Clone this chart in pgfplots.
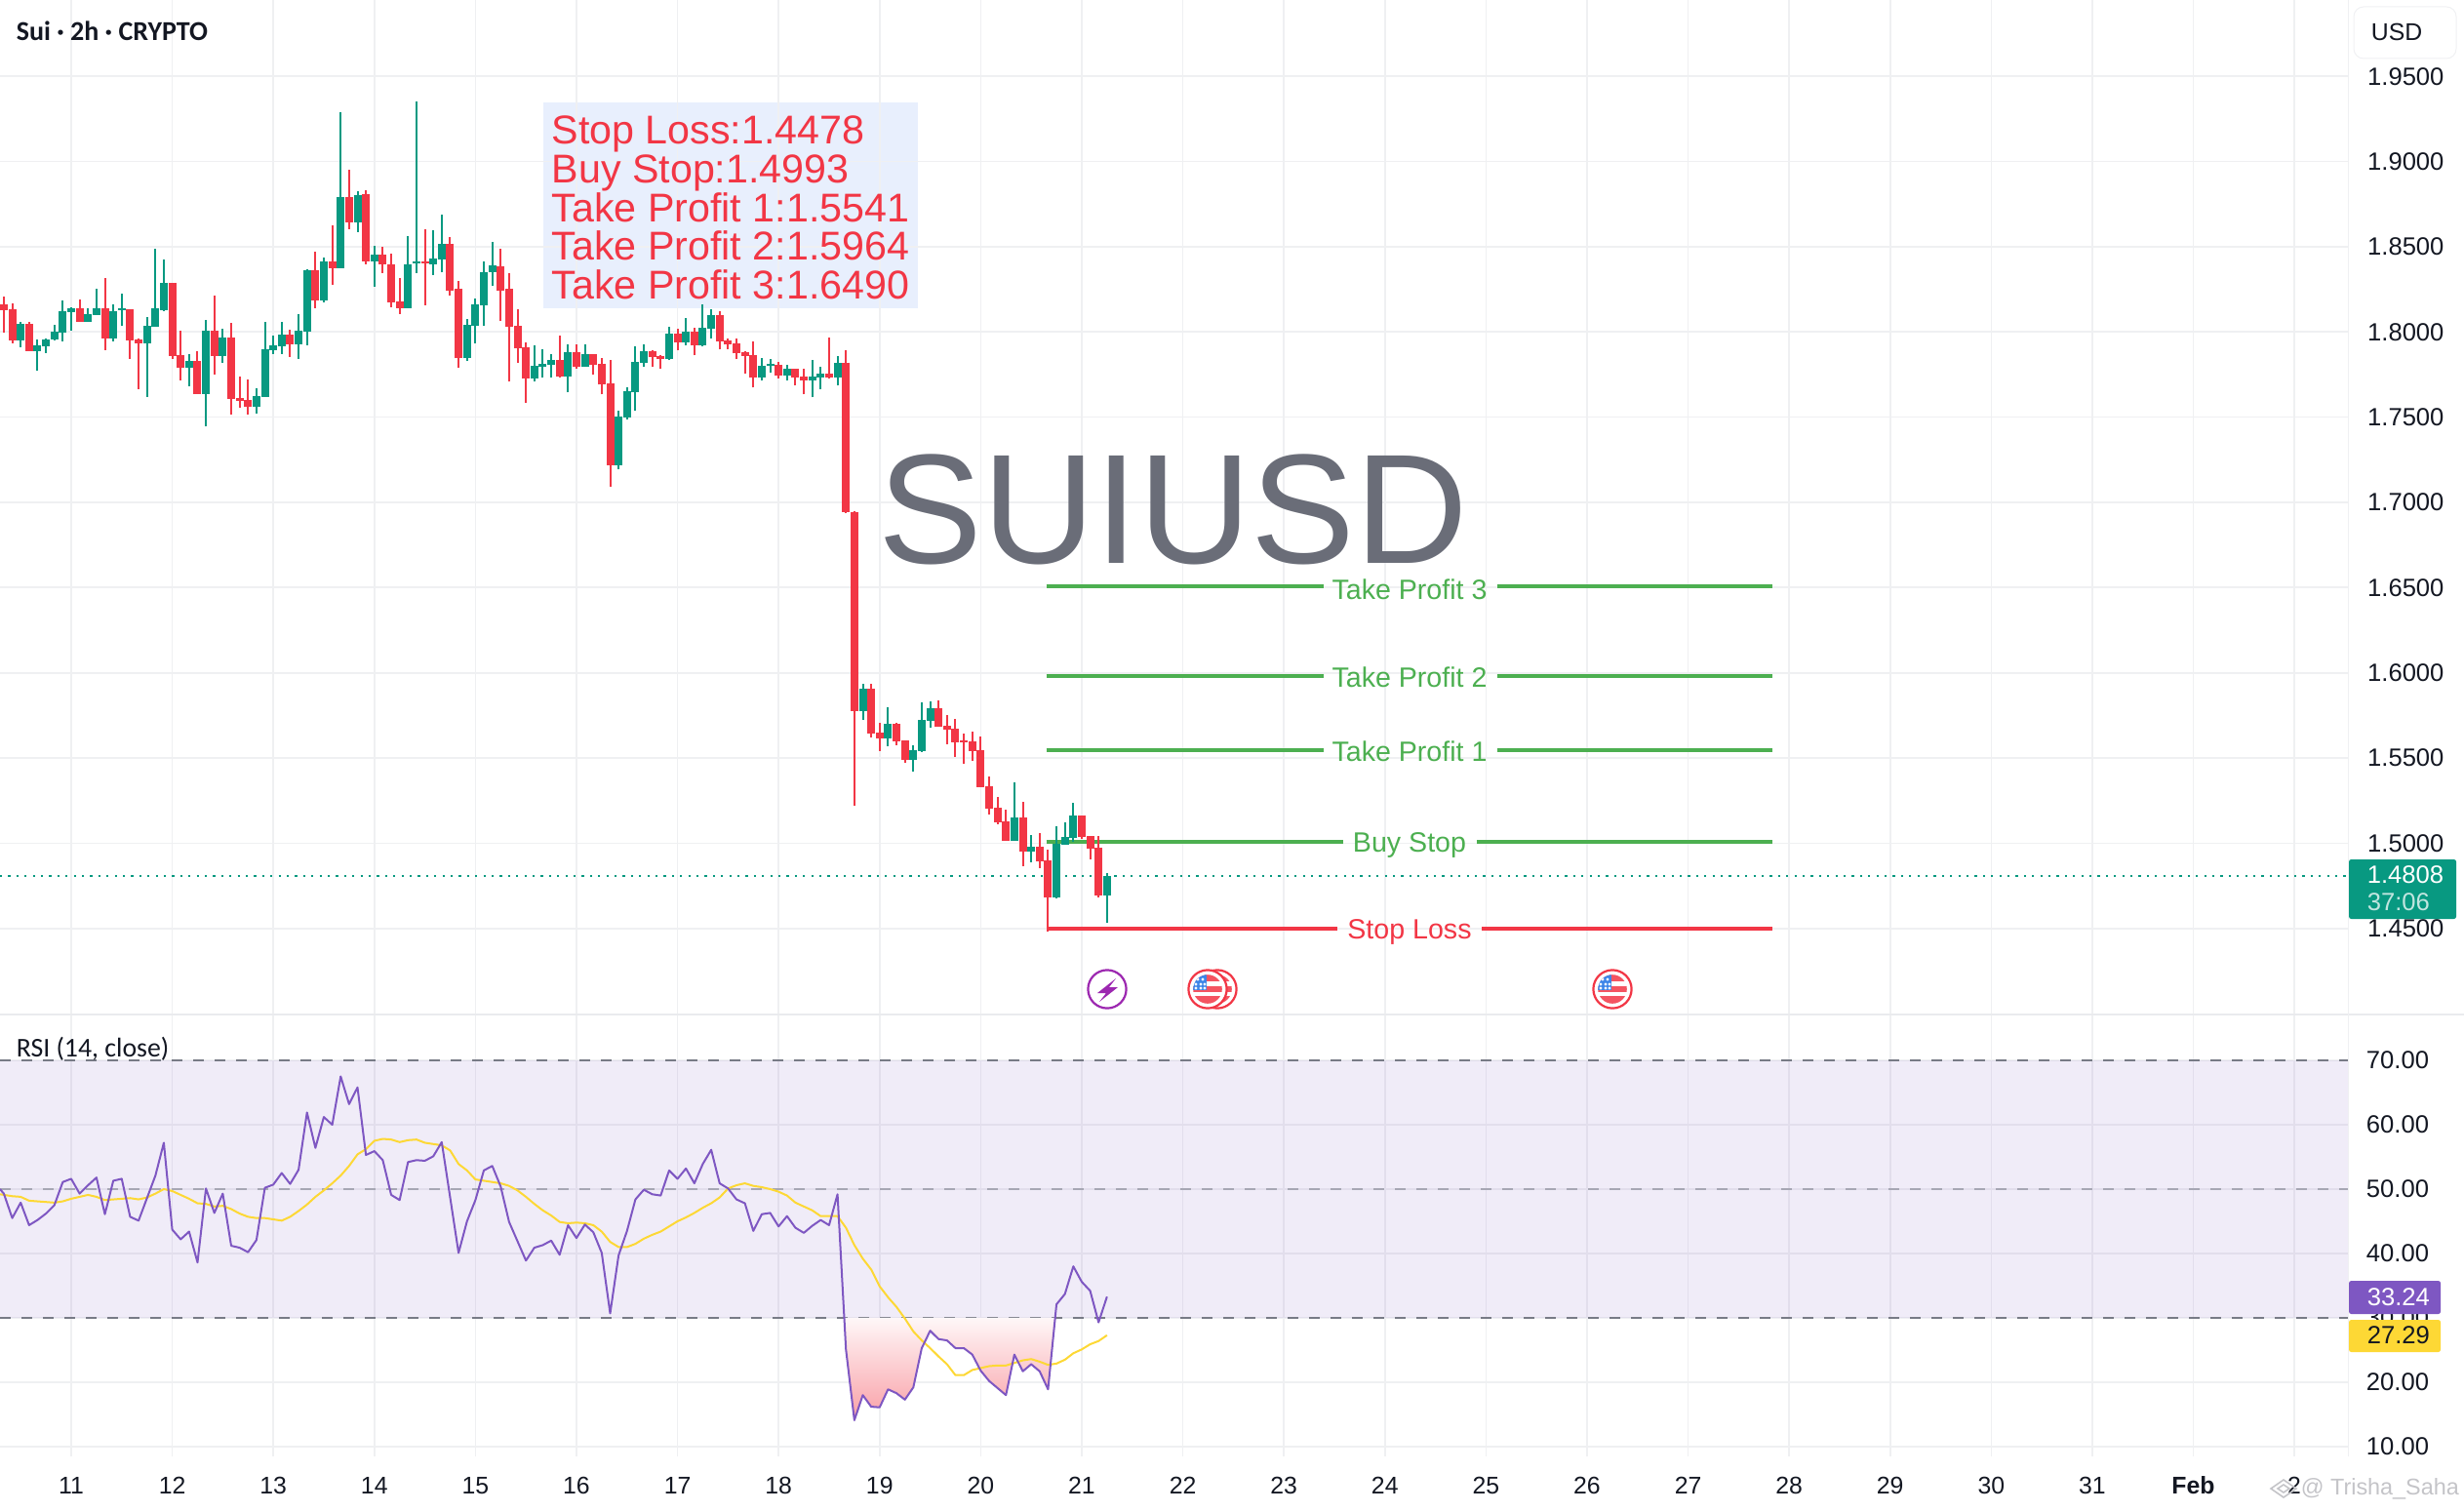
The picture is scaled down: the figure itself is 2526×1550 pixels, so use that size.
\documentclass[border=0pt]{standalone}
\usepackage{fontspec}
\usepackage{pgfplots}
\usepackage{pgfplotstable}
\pgfplotsset{compat=1.18}
\setmainfont{Liberation Sans}
\newfontfamily\carlito{Carlito}
\definecolor{tvred}{HTML}{F23645}
\definecolor{tvgreen}{HTML}{089981}
\definecolor{lvgreen}{HTML}{4CAF50}
\definecolor{gridc}{HTML}{EFF0F2}
\definecolor{rsip}{HTML}{7E57C2}
\definecolor{rsiy}{HTML}{FDD835}
\definecolor{dashc}{HTML}{787B86}
\definecolor{boxc}{HTML}{E8EFFD}
\definecolor{txt}{HTML}{131722}
\definecolor{wm}{HTML}{C4C4C8}
\definecolor{divc}{HTML}{EAEBEE}
\definecolor{usdc}{HTML}{F0F1F3}
\definecolor{bigc}{HTML}{6A6D78}
\definecolor{bolt}{HTML}{9C27B0}
\definecolor{flagb}{HTML}{3D85E8}
\pgfplotstableread{
i wl lo hi wh
0 1.7997 1.8129 1.8163 1.8209
1 1.7934 1.7951 1.8134 1.8169
3 1.7888 1.7888 1.8048 1.8060
9 1.8060 1.8060 1.8140 1.8192
12 1.7894 1.7962 1.8140 1.8318
15 1.7842 1.7951 1.8134 1.8134
16 1.7664 1.7934 1.7957 1.7962
20 1.7842 1.7859 1.8289 1.8289
21 1.7716 1.7790 1.7865 1.8008
23 1.7636 1.7636 1.7831 1.7888
25 1.7750 1.7859 1.8008 1.8215
27 1.7515 1.7607 1.7968 1.8054
28 1.7555 1.7595 1.7613 1.7739
29 1.7515 1.7561 1.7601 1.7722
34 1.7853 1.7928 1.7985 1.8014
37 1.8140 1.8186 1.8364 1.8473
39 1.8278 1.8375 1.8415 1.8627
41 1.8604 1.8645 1.8794 1.8954
43 1.8398 1.8415 1.8811 1.8834
45 1.8347 1.8398 1.8455 1.8501
46 1.8146 1.8175 1.8398 1.8461
47 1.8106 1.8140 1.8180 1.8318
50 1.8157 1.8404 1.8415 1.8604
53 1.8211 1.8240 1.8515 1.8555
54 1.7788 1.7845 1.8252 1.8298
59 1.8063 1.8240 1.8385 1.8486
60 1.7708 1.8029 1.8252 1.8344
61 1.7817 1.7903 1.8034 1.8132
62 1.7582 1.7725 1.7908 1.7937
66 1.7731 1.7736 1.7834 1.7977
68 1.7782 1.7794 1.7880 1.7925
70 1.7748 1.7805 1.7868 1.7868
71 1.7633 1.7690 1.7811 1.7845
72 1.7094 1.7220 1.7696 1.7834
77 1.7794 1.7851 1.7885 1.7891
78 1.7782 1.7839 1.7857 1.7862
80 1.7891 1.7937 1.7988 1.8017
82 1.7862 1.7920 1.8000 1.8023
85 1.7897 1.7943 1.8097 1.8120
86 1.7897 1.7925 1.7948 1.7960
87 1.7839 1.7874 1.7931 1.7960
88 1.7753 1.7857 1.7880 1.7885
89 1.7673 1.7731 1.7862 1.7943
92 1.7725 1.7742 1.7805 1.7822
94 1.7685 1.7731 1.7782 1.7782
95 1.7633 1.7713 1.7736 1.7782
98 1.7725 1.7731 1.7753 1.7966
100 1.6934 1.6945 1.7817 1.7891
101 1.5222 1.5776 1.6945 1.6950
103 1.5622 1.5645 1.5908 1.5937
104 1.5541 1.5616 1.5650 1.5708
106 1.5576 1.5599 1.5702 1.5708
107 1.5473 1.5490 1.5604 1.5604
111 1.5685 1.5685 1.5794 1.5839
112 1.5582 1.5667 1.5690 1.5753
113 1.5507 1.5593 1.5673 1.5731
114 1.5467 1.5593 1.5604 1.5645
115 1.5484 1.5541 1.5599 1.5656
116 1.5329 1.5329 1.5547 1.5627
117 1.5169 1.5203 1.5335 1.5392
118 1.5111 1.5123 1.5209 1.5272
119 1.5014 1.5014 1.5129 1.5197
121 1.4865 1.4951 1.5152 1.5243
123 1.4853 1.4893 1.4980 1.5060
124 1.4481 1.4681 1.4899 1.4962
128 1.5025 1.5037 1.5163 1.5163
129 1.4905 1.4968 1.5043 1.5043
130 1.4681 1.4693 1.4974 1.5043
}\redbars
\pgfplotstableread{
i wl lo hi wh
2 1.7911 1.7951 1.8048 1.8060
4 1.7773 1.7888 1.7922 1.7957
5 1.7876 1.7917 1.7957 1.7962
6 1.7951 1.7957 1.8003 1.8043
7 1.7945 1.7997 1.8123 1.8186
8 1.8008 1.8117 1.8140 1.8146
10 1.8060 1.8060 1.8106 1.8140
11 1.8100 1.8100 1.8140 1.8255
13 1.7945 1.7962 1.8123 1.8163
14 1.8037 1.8129 1.8140 1.8226
17 1.7618 1.7934 1.8037 1.8089
18 1.8031 1.8031 1.8140 1.8490
19 1.8123 1.8129 1.8289 1.8427
22 1.7681 1.7790 1.7831 1.7871
24 1.7446 1.7636 1.8008 1.8071
26 1.7819 1.7859 1.7968 1.8020
30 1.7521 1.7561 1.7624 1.7670
31 1.7618 1.7618 1.7899 1.8060
32 1.7871 1.7894 1.7922 1.7980
33 1.7871 1.7917 1.7985 1.8060
35 1.7842 1.7928 1.8008 1.8106
36 1.7922 1.8003 1.8364 1.8369
38 1.8175 1.8186 1.8415 1.8438
40 1.8375 1.8375 1.8794 1.9287
42 1.8587 1.8645 1.8805 1.8828
44 1.8266 1.8415 1.8455 1.8507
48 1.8140 1.8140 1.8398 1.8564
49 1.8347 1.8404 1.8415 1.9350
51 1.8335 1.8398 1.8432 1.8599
52 1.8349 1.8423 1.8515 1.8687
55 1.7828 1.7845 1.8040 1.8075
56 1.7931 1.8034 1.8161 1.8195
57 1.8034 1.8155 1.8352 1.8415
58 1.8269 1.8350 1.8390 1.8527
63 1.7708 1.7725 1.7799 1.7920
64 1.7731 1.7794 1.7811 1.7897
65 1.7731 1.7805 1.7834 1.7868
67 1.7645 1.7736 1.7880 1.7925
69 1.7794 1.7794 1.7868 1.7925
73 1.7192 1.7220 1.7501 1.7536
74 1.7484 1.7495 1.7650 1.7673
75 1.7536 1.7645 1.7822 1.7914
76 1.7794 1.7817 1.7885 1.7925
79 1.7834 1.7839 1.7988 1.8029
81 1.7920 1.7937 1.8000 1.8080
83 1.7914 1.7920 1.8023 1.8161
84 1.7960 1.8017 1.8097 1.8132
90 1.7713 1.7731 1.7799 1.7845
91 1.7759 1.7799 1.7811 1.7839
93 1.7713 1.7742 1.7782 1.7805
96 1.7616 1.7713 1.7736 1.7834
97 1.7662 1.7731 1.7753 1.7794
99 1.7685 1.7731 1.7817 1.7857
102 1.5725 1.5776 1.5908 1.5937
105 1.5570 1.5616 1.5702 1.5799
108 1.5421 1.5490 1.5547 1.5576
109 1.5536 1.5541 1.5725 1.5828
110 1.5679 1.5719 1.5794 1.5834
120 1.5014 1.5014 1.5152 1.5358
122 1.4888 1.4951 1.4980 1.5048
125 1.4676 1.4681 1.4997 1.5100
126 1.4991 1.4991 1.5037 1.5123
127 1.5008 1.5031 1.5163 1.5237
131 1.4532 1.4693 1.4808 1.4825
}\greenbars
\newcommand{\usflag}[2]{%
 \begin{scope}[shift={(#1,#2)}]
  \filldraw[draw=tvred,fill=white,line width=.55pt] (0,0) circle (4.9pt);
  \begin{scope}
   \clip (0,0) circle (3.7pt);
   \fill[tvred!85] (-16,-16) rectangle (16,-8);
   \fill[tvred!85] (-16,-3) rectangle (16,3);
   \fill[tvred!85] (-16,7) rectangle (16,16);
   \fill[flagb] (-16,-16) rectangle (-1,1);
   \foreach \a/\b in {-10/-10,-5/-10,-12/-5,-7/-5,-3/-5,-12/-1,-7/-1,-3/-1}{\fill[white] (\a,\b) circle (.4pt);}
  \end{scope}
 \end{scope}}
\begin{document}
\begin{tikzpicture}[x=0.25pt,y=-0.25pt]
\path[use as bounding box] (0,0) rectangle (2526,1550);
\coordinate (mainorigin) at (0,0);
\coordinate (rsiorigin) at (0,1040);
\fill[boxc] (557,105) rectangle (941,316);
\begin{axis}[
  at={(mainorigin)},anchor=north west,scale only axis,width=601.75pt,height=260pt,
  xmin=-0.455,xmax=278.36,ymin=1.39946,ymax=1.99477,
  axis line style={draw=none},tick style={draw=none},
  xtick={8,20,32,44,56,68,80,92,104,116,128,140,152,164,176,188,200,212,224,236,248,260,272},
  xticklabels={},
  ytick={1.45,1.5,1.55,1.6,1.65,1.7,1.75,1.8,1.85,1.9,1.95},
  yticklabel pos=right,
  scaled y ticks=false,
  /pgf/number format/assume math mode=true,
  yticklabel style={/pgf/number format/fixed,/pgf/number format/fixed zerofill,/pgf/number format/precision=4,
    font=\fontsize{6.4}{7.5}\selectfont,text=txt,anchor=west,xshift=1.5pt},
  grid=major,major grid style={gridc,line width=.42pt},
  clip=true,
]
\addplot[lvgreen,line width=1pt] coordinates {(123.8,1.6505)(156.7,1.6505)};
\addplot[lvgreen,line width=1pt] coordinates {(177.4,1.6505)(210,1.6505)};
\addplot[lvgreen,line width=1pt] coordinates {(123.8,1.598)(156.7,1.598)};
\addplot[lvgreen,line width=1pt] coordinates {(177.4,1.598)(210,1.598)};
\addplot[lvgreen,line width=1pt] coordinates {(123.8,1.5546)(156.7,1.5546)};
\addplot[lvgreen,line width=1pt] coordinates {(177.4,1.5546)(210,1.5546)};
\addplot[lvgreen,line width=1pt] coordinates {(123.8,1.5008)(159.1,1.5008)};
\addplot[lvgreen,line width=1pt] coordinates {(174.9,1.5008)(210,1.5008)};
\addplot[tvred,line width=1pt] coordinates {(123.8,1.4498)(158.4,1.4498)};
\addplot[tvred,line width=1pt] coordinates {(175.5,1.4498)(210,1.4498)};
\addplot[tvgreen,line width=.5pt,dash pattern=on .55pt off 1.55pt] coordinates {(-0.455,1.4808)(278.36,1.4808)};
% wicks and bodies
\addplot[draw=none,no markers,error bars/.cd,y dir=plus,y explicit,error mark=none,error bar style={tvgreen,line width=.5pt}]
  table[x=i,y=wl,y error plus expr=\thisrow{wh}-\thisrow{wl}] {\greenbars};
\addplot[draw=none,no markers,error bars/.cd,y dir=plus,y explicit,error mark=none,error bar style={tvgreen,line width=2pt}]
  table[x=i,y=lo,y error plus expr=\thisrow{hi}-\thisrow{lo}] {\greenbars};
\addplot[draw=none,no markers,error bars/.cd,y dir=plus,y explicit,error mark=none,error bar style={tvred,line width=.5pt}]
  table[x=i,y=wl,y error plus expr=\thisrow{wh}-\thisrow{wl}] {\redbars};
\addplot[draw=none,no markers,error bars/.cd,y dir=plus,y explicit,error mark=none,error bar style={tvred,line width=2pt}]
  table[x=i,y=lo,y error plus expr=\thisrow{hi}-\thisrow{lo}] {\redbars};
\end{axis}
\begin{axis}[
  at={(rsiorigin)},anchor=north west,scale only axis,width=601.75pt,height=113.25pt,
  xmin=-0.455,xmax=278.36,ymin=8.48,ymax=77.12,
  axis line style={draw=none},tick style={draw=none},
  xtick={8,20,32,44,56,68,80,92,104,116,128,140,152,164,176,188,200,212,224,236,248,260,272},
  xticklabels={11,12,13,14,15,16,17,18,19,20,21,22,23,24,25,26,27,28,29,30,31,\textbf{Feb},2},
  xticklabel style={font=\fontsize{6.2}{7.5}\selectfont,text=txt,anchor=center,yshift=-7.4pt},
  ytick={10,20,30,40,50,60,70},
  yticklabel pos=right,
  /pgf/number format/assume math mode=true,
  yticklabel style={/pgf/number format/fixed,/pgf/number format/fixed zerofill,/pgf/number format/precision=2,
    font=\fontsize{6.4}{7.5}\selectfont,text=txt,anchor=west,xshift=1.2pt},
  grid=major,major grid style={gridc,line width=.42pt},
  clip=true,
]
\fill[rsip,fill opacity=.115] (axis cs:-0.455,30) rectangle (axis cs:278.36,70);
\addplot[dashc,line width=.4pt,dash pattern=on 2.75pt off 2.75pt] coordinates {(-0.455,70)(278.36,70)};
\addplot[dashc,draw opacity=.55,line width=.4pt,dash pattern=on 2.75pt off 2.75pt] coordinates {(-0.455,50)(278.36,50)};
\addplot[dashc,line width=.4pt,dash pattern=on 2.75pt off 2.75pt] coordinates {(-0.455,30)(278.36,30)};
\addplot[draw=none,shade,top color=tvred!4,bottom color=tvred!48] coordinates {
(99.8,30)(100,25.1)(101,14.1)(102,18.0)(103,16.2)(104,16.1)(105,18.9)(106,18.3)(107,17.3)(108,19.2)(109,25.3)(110,28.0)(111,26.7)(112,26.5)(113,25.3)(114,25.3)(115,24.3)(116,21.8)(117,20.2)(118,19.1)(119,18.0)(120,24.3)(121,21.7)(122,22.8)(123,21.7)(124,18.9)(124.84,30)};
\addplot[rsiy,line width=.5pt,line join=round] coordinates {
(-0.455,49.2)(1,48.9)(2,48.8)(3,48.2)(4,48.1)(5,48.0)(6,47.9)(7,48.1)(8,48.5)(9,48.8)(10,49.1)(11,48.8)(12,48.3)(13,48.4)(14,48.5)(15,48.6)(16,48.4)(17,48.7)(18,49.3)(19,50.0)(20,49.7)(21,49.1)(22,48.5)(23,47.8)(24,47.7)(25,47.3)(26,47.4)(27,46.9)(28,46.2)(29,45.7)(30,45.5)(31,45.5)(32,45.3)(33,45.1)(34,45.7)(35,46.6)(36,47.6)(37,48.8)(38,49.8)(39,50.9)(40,52.1)(41,53.6)(42,55.4)(43,56.2)(44,57.5)(45,57.8)(46,57.7)(47,57.3)(48,57.6)(49,57.7)(50,57.2)(51,57.0)(52,56.8)(53,56.0)(54,53.9)(55,52.9)(56,51.5)(57,51.3)(58,51.1)(59,50.9)(60,50.5)(61,49.8)(62,48.8)(63,47.7)(64,46.7)(65,45.9)(66,44.9)(67,44.7)(68,44.8)(69,44.7)(70,44.4)(71,43.4)(72,41.8)(73,41.0)(74,41.0)(75,41.5)(76,42.3)(77,42.9)(78,43.4)(79,44.2)(80,45.0)(81,45.6)(82,46.3)(83,47.1)(84,47.8)(85,48.7)(86,50.1)(87,50.6)(88,50.9)(89,50.5)(90,50.3)(91,50.0)(92,49.6)(93,49.0)(94,47.9)(95,47.3)(96,46.7)(97,45.8)(98,45.8)(99,45.8)(100,44.0)(101,41.3)(102,39.2)(103,37.5)(104,34.9)(105,33.2)(106,31.7)(107,29.9)(108,27.9)(109,26.5)(110,25.3)(111,24.0)(112,22.8)(113,21.1)(114,21.1)(115,21.9)(116,22.2)(117,22.5)(118,22.6)(119,22.6)(120,23.0)(121,23.4)(122,23.6)(123,23.2)(124,22.7)(125,22.9)(126,23.5)(127,24.5)(128,25.1)(129,25.9)(130,26.4)(131,27.3)};
\addplot[rsip,line width=.5pt,line join=round] coordinates {
(-0.455,50.0)(0,49.3)(1,45.5)(2,47.9)(3,44.4)(4,45.2)(5,46.2)(6,47.5)(7,51.1)(8,51.6)(9,49.3)(10,50.6)(11,51.8)(12,46.1)(13,51.3)(14,51.6)(15,45.7)(16,45.1)(17,48.6)(18,52.1)(19,57.2)(20,43.7)(21,42.2)(22,43.4)(23,38.6)(24,50.1)(25,46.3)(26,49.3)(27,41.2)(28,40.9)(29,40.2)(30,42.1)(31,50.2)(32,50.7)(33,52.5)(34,50.8)(35,53.0)(36,61.9)(37,56.4)(38,61.2)(39,60.0)(40,67.5)(41,63.2)(42,65.8)(43,55.3)(44,55.9)(45,54.5)(46,49.1)(47,48.3)(48,54.2)(49,54.5)(50,54.4)(51,55.1)(52,57.3)(53,48.7)(54,40.1)(55,45.0)(56,48.3)(57,52.9)(58,53.6)(59,50.4)(60,44.9)(61,41.9)(62,38.9)(63,40.9)(64,41.3)(65,42.0)(66,39.8)(67,44.4)(68,42.4)(69,44.5)(70,43.3)(71,40.1)(72,30.7)(73,39.7)(74,43.5)(75,48.4)(76,49.9)(77,49.2)(78,49.0)(79,52.9)(80,51.6)(81,53.2)(82,50.9)(83,53.9)(84,56.1)(85,50.9)(86,50.1)(87,48.4)(88,47.8)(89,43.5)(90,46.1)(91,46.3)(92,44.2)(93,45.8)(94,44.0)(95,43.2)(96,44.3)(97,45.2)(98,44.4)(99,49.2)(100,25.1)(101,14.1)(102,18.0)(103,16.2)(104,16.1)(105,18.9)(106,18.3)(107,17.3)(108,19.2)(109,25.3)(110,28.0)(111,26.7)(112,26.5)(113,25.3)(114,25.3)(115,24.3)(116,21.8)(117,20.2)(118,19.1)(119,18.0)(120,24.3)(121,21.7)(122,22.8)(123,21.7)(124,18.9)(125,32.1)(126,33.7)(127,38.0)(128,35.6)(129,34.2)(130,29.3)(131,33.3)};
\end{axis}
% frame lines
\draw[divc,line width=.4pt] (0,1040) -- (2526,1040);
\draw[gridc,line width=.25pt] (2407,0) -- (2407,1493);
% title texts
\node[anchor=west,inner sep=0,text=txt] at (16,32) {\carlito\bfseries\fontsize{7.0}{9}\selectfont Sui · 2h · CRYPTO};
\node[anchor=west,inner sep=0,text=txt] at (16,1075) {\carlito\fontsize{6.95}{9}\selectfont RSI (14, close)};
\filldraw[draw=usdc,fill=white,line width=.25pt,rounded corners=2.5pt] (2413,7) rectangle (2518,60);
\node[text=txt,inner sep=0] at (2457,33) {\fontsize{6.2}{7.5}\selectfont USD};
% info box
\begin{scope}[every node/.style={anchor=base west,inner sep=0,text=tvred}]
\node at (565,148) {\fontsize{10.3}{12}\selectfont Stop Loss:1.4478};
\node at (565,188) {\fontsize{10.3}{12}\selectfont Buy Stop:1.4993};
\node at (565,228) {\fontsize{10.3}{12}\selectfont Take Profit 1:1.5541};
\node at (565,267) {\fontsize{10.3}{12}\selectfont Take Profit 2:1.5964};
\node at (565,307) {\fontsize{10.3}{12}\selectfont Take Profit 3:1.6490};
\end{scope}
\node[text=bigc,inner sep=0,anchor=base] at (1203,577) {\fontsize{40}{45}\selectfont SUIUSD};
% level labels
\begin{scope}[every node/.style={inner sep=0,anchor=base}]
\node[text=lvgreen] at (1445,614) {\fontsize{7.15}{8.5}\selectfont Take Profit 3};
\node[text=lvgreen] at (1445,704) {\fontsize{7.15}{8.5}\selectfont Take Profit 2};
\node[text=lvgreen] at (1445,780) {\fontsize{7.15}{8.5}\selectfont Take Profit 1};
\node[text=lvgreen] at (1445,873) {\fontsize{7.15}{8.5}\selectfont Buy Stop};
\node[text=tvred] at (1445,962) {\fontsize{7.15}{8.5}\selectfont Stop Loss};
\end{scope}
% icons
\filldraw[draw=bolt,fill=white,line width=.55pt] (1135,1014) circle (4.9pt);
\fill[bolt] (1144,1003) -- (1125,1018) -- (1134,1018) -- (1127,1027) -- (1146,1012) -- (1137,1012) -- cycle;
\usflag{1248}{1014}
\usflag{1238}{1014}
\usflag{1653}{1014}
% price tags
\fill[tvgreen,rounded corners=.6pt] (2408,881) rectangle (2518,942);
\node[anchor=west,inner sep=0,text=white] at (2426,897) {\fontsize{6.4}{7.5}\selectfont 1.4808};
\node[anchor=west,inner sep=0,text=white!75!tvgreen] at (2426,925) {\fontsize{6.4}{7.5}\selectfont 37:06};
\fill[rsip,rounded corners=.6pt] (2408,1313) rectangle (2502,1347);
\node[anchor=west,inner sep=0,text=white] at (2426,1330) {\fontsize{6.4}{7.5}\selectfont 33.24};
\fill[rsiy,rounded corners=.6pt] (2408,1353) rectangle (2502,1386);
\node[anchor=west,inner sep=0,text=txt] at (2426,1369) {\fontsize{6.4}{7.5}\selectfont 27.29};
% watermark
\draw[wm,line width=.4pt] (2341,1517) -- (2354,1526) -- (2341,1535) -- (2328,1526) -- cycle;
\draw[wm,line width=.4pt] (2341,1522) -- (2347,1526) -- (2341,1530) -- (2335,1526) -- cycle;
\node[anchor=west,inner sep=0,text=wm] at (2358,1526) {\fontsize{5.85}{7}\selectfont @ Trisha\_Saha};
\end{tikzpicture}
\end{document}
